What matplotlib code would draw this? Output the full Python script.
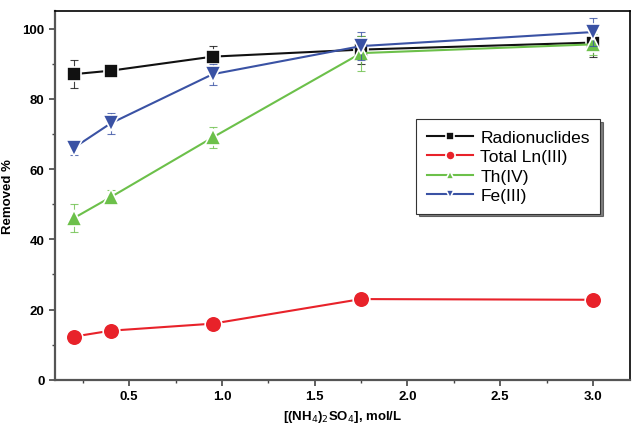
import matplotlib
matplotlib.use('Agg')
import matplotlib.pyplot as plt
from matplotlib.ticker import MultipleLocator

plt.rcParams['font.family'] = ['Liberation Sans', 'DejaVu Sans']

# concentration of (NH4)2SO4, mol/L
conc = [0.2, 0.4, 0.95, 1.75, 3.0]

radionuclides = [87, 88, 92, 94, 96]
radionuclides_err = [4, 0, 3, 4, 4]
total_ln = [12.3, 14, 16, 23, 22.8]
total_ln_err = [0, 0, 0, 0, 0]
th_iv = [46, 52, 69, 93, 95.5]
th_iv_err = [4, 2, 3, 5, 3]
fe_iii = [66, 73, 87, 95, 99]
fe_iii_err = [2, 3, 3, 4, 4]

series = [
    ('Radionuclides', radionuclides, radionuclides_err, '#111111', 's', 10.5),
    ('Total Ln(III)', total_ln, total_ln_err, '#e8222a', 'o', 12),
    ('Th(IV)', th_iv, th_iv_err, '#6cc04a', '^', 11.5),
    ('Fe(III)', fe_iii, fe_iii_err, '#3a52a4', 'v', 11.5),
]

fig = plt.figure(figsize=(6.32, 4.27), dpi=100)
ax = fig.add_axes([0.087, 0.108, 0.91, 0.864])

for name, vals, errs, color, marker, ms in series:
    # error bars first so the markers sit on top
    ax.errorbar(conc, vals, yerr=errs, fmt='none', ecolor=color, elinewidth=0.8,
                capsize=3, capthick=0.8, alpha=0.8)
    ax.plot(conc, vals, color=color, lw=1.5, marker=marker, ms=ms,
            mec='white', mew=1.2, label=name)

ax.set_xlim(0.1, 3.2)
ax.set_ylim(0, 105)
ax.xaxis.set_major_locator(MultipleLocator(0.5))
ax.xaxis.set_minor_locator(MultipleLocator(0.25))
ax.yaxis.set_major_locator(MultipleLocator(20))
ax.yaxis.set_minor_locator(MultipleLocator(10))
ax.set_xticks([0.5, 1.0, 1.5, 2.0, 2.5, 3.0])
ax.tick_params(which='major', direction='out', length=4, width=1.2,
               labelsize=9.5, color='#444444')
ax.tick_params(which='minor', direction='out', length=2.5, width=1.0,
               color='#444444')
for lbl in ax.get_xticklabels() + ax.get_yticklabels():
    lbl.set_fontweight('bold')

for side in ['left', 'bottom']:
    ax.spines[side].set_linewidth(1.6)
    ax.spines[side].set_color('#555555')
ax.spines['top'].set_linewidth(1.2)
ax.spines['right'].set_linewidth(1.2)

ax.set_ylabel('Removed %', fontsize=9.5, fontweight='bold', labelpad=6)
ax.set_xlabel('[(NH$_4$)$_2$SO$_4$], mol/L', fontsize=9.5, fontweight='bold')

handles, labels = ax.get_legend_handles_labels()
leg = ax.legend(handles, labels, loc='upper left', bbox_to_anchor=(0.628, 0.707),
                borderaxespad=0, fontsize=12.5, frameon=True, fancybox=False,
                shadow={'color': 'black'}, markerscale=0.55, handlelength=2.7,
                borderpad=0.6, labelspacing=0.25, handletextpad=0.4)
leg.get_frame().set_edgecolor('#333333')
leg.get_frame().set_linewidth(0.8)

fig.savefig('out.png', dpi=100)
